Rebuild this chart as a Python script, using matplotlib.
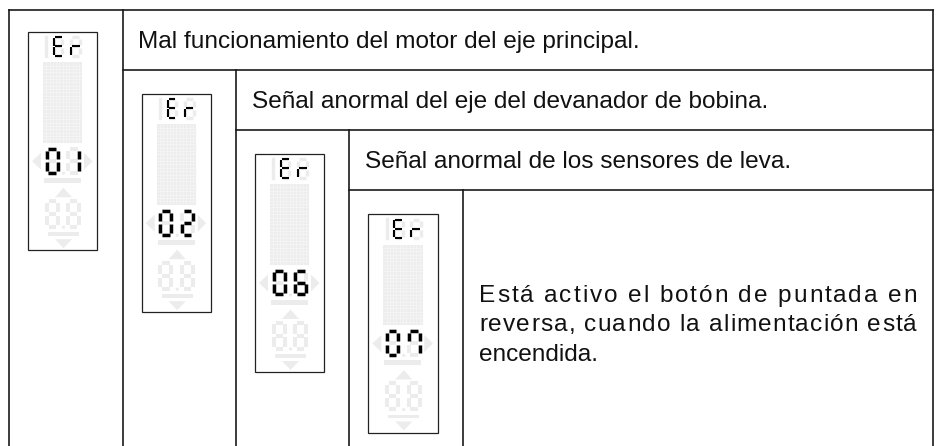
#Tabla de codigos de error

import matplotlib
matplotlib.use("Agg")
import matplotlib.pyplot as plt
from matplotlib.patches import Rectangle, Polygon, Circle
from matplotlib.textpath import TextPath
from matplotlib.font_manager import FontProperties

codigos = ["01", "02", "06", "07"]
mensajes = ["Mal funcionamiento del motor del eje principal.",
            "Señal anormal del eje del devanador de bobina.",
            "Señal anormal de los sensores de leva."]
lineas_largo = ["Está activo el botón de puntada en",
                "reversa, cuando la alimentación está",
                "encendida."]

# segmentos encendidos de cada digito
segmentos = {"0": "abcdef", "1": "bc", "2": "abged", "6": "acdefg", "7": "abcf",
             "8": "abcdefg", "E": "adefg", "r": "eg"}

GRIS = "#ececec"
NEGRO = "#000000"
fuente = FontProperties(family="Liberation Sans", size=17.55)

fig = plt.figure(figsize=(9.37, 4.46), dpi=100)
ax = fig.add_axes([0, 0, 1, 1])
ax.set_xlim(0, 937)
ax.set_ylim(446, 0)
ax.axis("off")


def linea(x0, y0, x1, y1):
    ax.plot([x0, x1], [y0, y1], color="#1a1a1a", lw=1.2, solid_capstyle="projecting")


def digito(x, y, w, h, car, color, lw):
    p = {"a": ((x, y), (x + w, y)), "b": ((x + w, y), (x + w, y + h / 2)),
         "c": ((x + w, y + h / 2), (x + w, y + h)), "d": ((x, y + h), (x + w, y + h)),
         "e": ((x, y + h / 2), (x, y + h)), "f": ((x, y), (x, y + h / 2)),
         "g": ((x, y + h / 2), (x + w, y + h / 2))}
    s = lw * 100 / 72 * 0.45
    for k in segmentos[car]:
        (x0, y0), (x1, y1) = p[k]
        # un poco mas corto para que se vean separados
        if y0 == y1:
            ax.plot([x0 + s, x1 - s], [y0, y1], color=color, lw=lw, solid_capstyle="butt")
        else:
            ax.plot([x0, x1], [y0 + s, y1 - s], color=color, lw=lw, solid_capstyle="butt")


def visor(x, y, codigo):
    ax.add_patch(Rectangle((x, y), 69.3, 218.5, fc="white", ec="#222222", lw=0.9))
    # fila superior
    ax.plot([x + 18.5, x + 18.5], [y + 5, y + 24], color=GRIS, lw=2.4)
    digito(x + 26, y + 5.5, 8.5, 18.5, "8", GRIS, 2.4)
    digito(x + 43, y + 5.5, 9.5, 18.5, "8", GRIS, 2.4)
    digito(x + 26, y + 5.5, 8.5, 18.5, "E", NEGRO, 1.5)
    digito(x + 43, y + 5.5, 9.5, 18.5, "r", NEGRO, 1.5)
    # matriz de puntos
    ax.add_patch(Rectangle((x + 15, y + 30.5), 39.5, 80.5, fc="#ededed", ec="none"))
    for i in range(1, 12):
        ax.plot([x + 15 + i * 39.5 / 12] * 2, [y + 30.5, y + 111], color="#f7f7f7", lw=0.5)
    for i in range(1, 24):
        ax.plot([x + 15, x + 54.5], [y + 30.5 + i * 80.5 / 24] * 2, color="#f7f7f7", lw=0.5)
    # numero grande
    digito(x + 18.7, y + 117.3, 11, 23.5, "8", GRIS, 2.8)
    digito(x + 40.3, y + 117.3, 11, 23.5, "8", GRIS, 2.8)
    digito(x + 18.7, y + 117.3, 11, 23.5, codigo[0], NEGRO, 2.5)
    digito(x + 40.3, y + 117.3, 11, 23.5, codigo[1], NEGRO, 2.5)
    ax.add_patch(Circle((x + 35.5, y + 141.5), 1.6, fc=GRIS, ec="none"))
    ax.add_patch(Polygon([[x + 4, y + 129.5], [x + 13, y + 121], [x + 13, y + 138]], fc=GRIS, ec="none"))
    ax.add_patch(Polygon([[x + 64.5, y + 129.5], [x + 56, y + 121], [x + 56, y + 138]], fc=GRIS, ec="none"))
    ax.add_patch(Rectangle((x + 16, y + 146), 37, 5, fc=GRIS, ec="none"))
    ax.add_patch(Polygon([[x + 27, y + 165.5], [x + 44, y + 165.5], [x + 35.5, y + 156]], fc=GRIS, ec="none"))
    # segundo numero, apagado
    digito(x + 18.7, y + 169, 11, 26, "8", GRIS, 2.9)
    digito(x + 40.3, y + 169, 11, 26, "8", GRIS, 2.9)
    ax.add_patch(Circle((x + 35.5, y + 195.5), 1.6, fc=GRIS, ec="none"))
    ax.add_patch(Rectangle((x + 20, y + 200.5), 31, 3.5, fc=GRIS, ec="none"))
    ax.add_patch(Polygon([[x + 27, y + 207.5], [x + 44, y + 207.5], [x + 35.5, y + 216.5]], fc=GRIS, ec="none"))


def justificada(txt, x0, x1, y):
    # reparte el espacio sobrante entre todas las letras
    barra = TextPath((0, 0), "|", prop=fuente).get_extents().x1
    total = (TextPath((0, 0), txt + "|", prop=fuente).get_extents().x1 - barra) * 100 / 72
    extra = (x1 - x0 - total) / (len(txt) - 1)
    for i, c in enumerate(txt):
        if c == " ":
            continue
        ancho = TextPath((0, 0), txt[:i] + "|", prop=fuente).get_extents().x1
        px = (ancho - barra) * 100 / 72
        ax.text(x0 + px + i * extra, y, c, fontproperties=fuente, color="#111111", va="baseline")


# lineas de la tabla
linea(9.5, 9.5, 933, 9.5)
linea(9.5, 9.5, 9.5, 446)
linea(123, 9.5, 123, 446)
linea(123, 69.5, 933, 69.5)
linea(236.5, 69.5, 236.5, 446)
linea(236.5, 129.5, 933, 129.5)
linea(349.5, 129.5, 349.5, 446)
linea(349.5, 189.5, 933, 189.5)
linea(463, 189.5, 463, 446)
linea(933, 9.5, 933, 446)

xs = [28, 141.7, 255, 368.3]
ys = [31.7, 93.7, 153.5, 214]
for x, y, cod in zip(xs, ys, codigos):
    visor(x, y, cod)

tx = [138, 252, 365]
ty = [48, 108, 168]
for x, y, m in zip(tx, ty, mensajes):
    ax.text(x, y, m, fontproperties=fuente, color="#111111", va="baseline")

justificada(lineas_largo[0], 479, 917, 302)
justificada(lineas_largo[1], 479, 917, 331)
ax.text(479, 361, lineas_largo[2], fontproperties=fuente, color="#111111", va="baseline")

fig.savefig("out.png", dpi=100)
